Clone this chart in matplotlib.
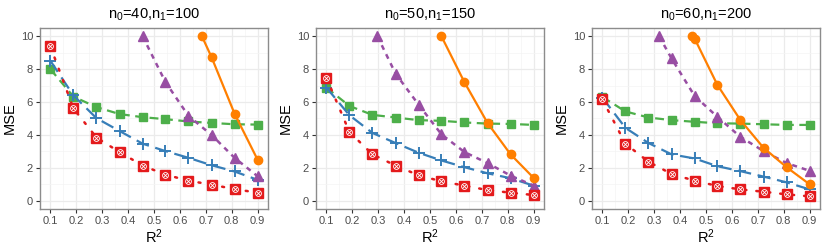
import numpy as np
import matplotlib
matplotlib.use('Agg')
import matplotlib.pyplot as plt
from matplotlib.ticker import MultipleLocator

plt.rcParams.update({
    "font.family": ["Liberation Sans", "DejaVu Sans"],
    "mathtext.fontset": "custom",
    "mathtext.rm": "Liberation Sans",
    "mathtext.it": "Liberation Sans",
})

# R^2 grid (10 evenly spaced values from 0.1 to 0.9)
r2 = [0.1, 0.189, 0.278, 0.367, 0.456, 0.544, 0.633, 0.722, 0.811, 0.9]

titles = ["$\\mathregular{n_0}$=40,$\\mathregular{n_1}$=100",
          "$\\mathregular{n_0}$=50,$\\mathregular{n_1}$=150",
          "$\\mathregular{n_0}$=60,$\\mathregular{n_1}$=200"]

# panel 1
red_1 = [9.39, 5.61, 3.84, 2.96, 2.14, 1.59, 1.22, 0.98, 0.71, 0.49]
blue_1 = [8.51, 6.40, 5.02, 4.24, 3.47, 3.02, 2.61, 2.16, 1.78, 1.27]
green_1 = [8.00, 6.33, 5.69, 5.27, 5.08, 4.96, 4.82, 4.73, 4.65, 4.63]
purple_x1 = [0.456, 0.544, 0.633, 0.722, 0.811, 0.9]
purple_1 = [10.0, 7.22, 5.16, 4.00, 2.61, 1.49]
orange_x1 = [0.685, 0.722, 0.811, 0.9]
orange_1 = [10.0, 8.73, 5.29, 2.49]

# panel 2
red_2 = [7.49, 4.18, 2.82, 2.14, 1.55, 1.18, 0.92, 0.65, 0.49, 0.35]
blue_2 = [6.88, 5.20, 4.12, 3.51, 2.92, 2.45, 2.04, 1.67, 1.37, 0.92]
green_2 = [6.88, 5.76, 5.22, 5.06, 4.90, 4.86, 4.76, 4.69, 4.67, 4.61]
purple_x2 = [0.297, 0.367, 0.456, 0.544, 0.633, 0.722, 0.811, 0.9]
purple_2 = [10.0, 7.73, 5.84, 4.04, 2.96, 2.29, 1.53, 0.92]
orange_x2 = [0.544, 0.633, 0.722, 0.811, 0.9]
orange_2 = [10.0, 7.20, 4.73, 2.82, 1.39]

# panel 3
red_3 = [6.16, 3.47, 2.37, 1.63, 1.22, 0.90, 0.69, 0.55, 0.39, 0.27]
blue_3 = [6.27, 4.43, 3.51, 2.82, 2.57, 2.10, 1.80, 1.47, 1.12, 0.69]
green_3 = [6.31, 5.43, 5.06, 4.90, 4.80, 4.71, 4.69, 4.65, 4.61, 4.61]
purple_x3 = [0.319, 0.367, 0.456, 0.544, 0.633, 0.722, 0.811, 0.9]
purple_3 = [10.0, 8.65, 6.37, 5.10, 3.88, 3.02, 2.29, 1.82]
orange_x3 = [0.445, 0.456, 0.544, 0.633, 0.722, 0.811, 0.9]
orange_3 = [10.0, 9.86, 7.04, 4.90, 3.22, 2.04, 1.00]

panels = [
    (red_1, blue_1, green_1, purple_x1, purple_1, orange_x1, orange_1),
    (red_2, blue_2, green_2, purple_x2, purple_2, orange_x2, orange_2),
    (red_3, blue_3, green_3, purple_x3, purple_3, orange_x3, orange_3),
]

RED, BLUE, GREEN, PURPLE, ORANGE = '#E41A1C', '#377EB8', '#4DAF4A', '#984EA3', '#FF7F00'

fig = plt.figure(figsize=(8.3, 2.49), dpi=100)
lefts = [40, 316, 592]
for i, (red, blue, green, px, purple, ox, orange) in enumerate(panels):
    ax = fig.add_axes([lefts[i] / 830, 1 - 209 / 249, 228 / 830, 181 / 249])

    ax.plot(r2, green, color=GREEN, linestyle=(0, (4, 2.5)), linewidth=1.6,
            marker='s', markersize=5.5, zorder=3)
    ax.plot(r2, blue, color=BLUE, linestyle=(0, (6, 3)), linewidth=1.6,
            marker='+', markersize=9, markeredgewidth=1.4, zorder=3)
    ax.plot(r2, red, color=RED, linestyle=(0, (0.8, 4)), linewidth=1.8,
            dash_capstyle='round', zorder=3)
    ax.plot(r2, red, color=RED, linestyle='none', marker='s', markersize=6.5, zorder=4)
    ax.plot(r2, red, color='white', linestyle='none', marker='o', markersize=4.2,
            markerfacecolor='none', markeredgewidth=0.6, zorder=5)
    ax.plot(r2, red, color='white', linestyle='none', marker='x', markersize=2.8,
            markeredgewidth=0.6, zorder=5)
    ax.plot(px, purple, color=PURPLE, linestyle=(0, (2, 2)), linewidth=1.8,
            marker='^', markersize=6.5, zorder=3)
    ax.plot(ox, orange, color=ORANGE, linestyle='-', linewidth=1.6,
            marker='o', markersize=6, zorder=3)

    ax.set_xlim(0.06, 0.94)
    ax.set_ylim(-0.5, 10.5)
    ax.xaxis.set_major_locator(MultipleLocator(0.1))
    ax.xaxis.set_minor_locator(MultipleLocator(0.05))
    ax.yaxis.set_major_locator(MultipleLocator(2))
    ax.yaxis.set_minor_locator(MultipleLocator(1))
    ax.set_xticks(np.arange(0.1, 0.95, 0.1))
    ax.set_xticklabels([f'{v:.1f}' for v in np.arange(0.1, 0.95, 0.1)])
    ax.grid(True, which='major', color='#EBEBEB', linewidth=0.9, zorder=0)
    ax.grid(True, which='minor', color='#F4F4F4', linewidth=0.5, zorder=0)
    ax.set_axisbelow(True)
    for s in ax.spines.values():
        s.set_color('#8C8C8C')
        s.set_linewidth(1.0)
    ax.tick_params(which='major', length=3, color='#333333', labelsize=8,
                   labelcolor='#4D4D4D', pad=2)
    ax.tick_params(which='minor', length=0)
    ax.set_xlabel('$\\mathregular{R^2}$', fontsize=10.5, labelpad=1)
    ax.set_ylabel('MSE', fontsize=10.5, labelpad=3)
    ax.set_title(titles[i], fontsize=10.5, pad=7)

fig.savefig('out.png', dpi=100)
